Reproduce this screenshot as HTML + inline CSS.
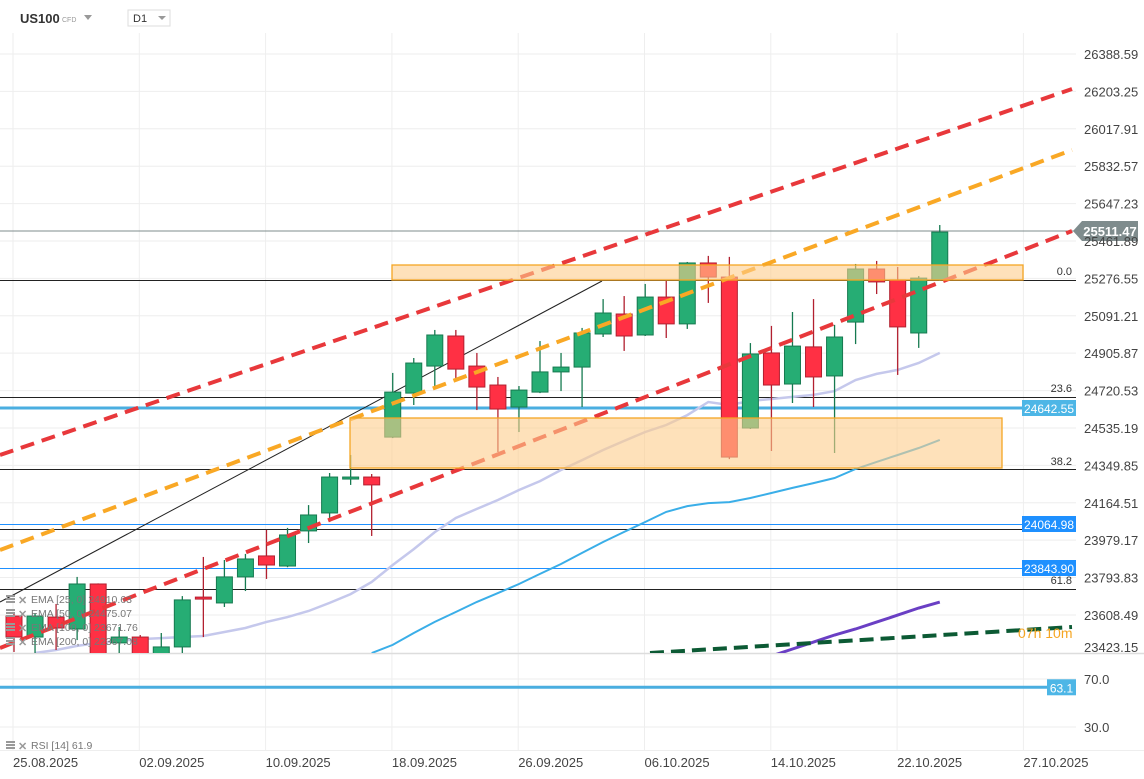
<!DOCTYPE html>
<html><head><meta charset="utf-8"><style>
body{margin:0;background:#fff;font-family:"Liberation Sans",sans-serif;}
svg{display:block}
</style></head><body>
<svg id="chart" width="1144" height="779" xmlns="http://www.w3.org/2000/svg" font-family="Liberation Sans, sans-serif">
<defs><clipPath id="mainclip"><rect x="0" y="30" width="1076" height="623"/></clipPath></defs>
<g id="grid"></g>
<g id="main" clip-path="url(#mainclip)"></g>
<g id="overlay"></g>
<g id="axes"></g>
<g>
<text x="20" y="23" font-size="13" font-weight="bold" fill="#333">US100</text>
<text x="62" y="22" font-size="7" fill="#999">CFD</text>
<path d="M84 15 L92 15 L88 20 Z" fill="#999"/>
<rect x="128" y="10" width="42" height="16" fill="#fff" stroke="#ddd"/>
<text x="133" y="22" font-size="11" fill="#333">D1</text>
<path d="M158 16 L166 16 L162 20 Z" fill="#999"/>
</g>
</svg>
<script>
const candleOpen=[23603,23499,23598,23539,23762,23470,23499,23385,23450,23697,23668,23797,23901,23851,24025,24114,24282,24292,24490,24708,24842,24991,24842,24748,24639,24713,24813,24837,25001,25100,24996,25184,25051,25353,25283,24535,24907,24753,24937,24793,25060,25323,25269,25006,25269];
const candleHigh=[23623,23618,23663,23797,23765,23549,23509,23519,23702,23896,23881,23911,24030,24040,24153,24312,24401,24307,24808,24882,25021,25021,24907,24788,24743,24966,24907,25031,25174,25189,25249,25264,25358,25388,25383,24956,25041,25110,25174,25046,25348,25363,25333,25288,25541];
const candleLow=[23425,23420,23435,23484,23360,23410,23360,23360,23420,23499,23648,23727,23787,23845,23965,24069,24253,24000,24485,24649,24743,24778,24624,24416,24515,24708,24718,24639,24986,24917,24991,24981,25026,25155,24381,24530,24421,24659,24639,24411,24951,25199,24798,24932,25264];
const candleClose=[23499,23603,23544,23762,23385,23499,23385,23450,23683,23688,23797,23886,23856,24005,24104,24292,24292,24253,24713,24857,24996,24827,24738,24629,24723,24813,24837,25006,25105,24991,25184,25051,25353,25283,24391,24902,24748,24941,24788,24986,25323,25259,25036,25278,25506];
const ema25=[23420,23435,23455,23470,23480,23489,23494,23499,23504,23524,23544,23574,23598,23628,23668,23712,23772,23856,23935,24019,24089,24134,24178,24228,24272,24327,24376,24426,24471,24515,24550,24599,24664,24649,24669,24679,24689,24699,24718,24773,24803,24823,24857,24907];
const ema25Start=1;
const ema50=[23420,23460,23519,23574,23623,23673,23717,23762,23812,23861,23916,23970,24020,24069,24119,24148,24163,24168,24188,24213,24238,24262,24287,24332,24367,24401,24436,24476];
const ema50Start=17;
const ema100=[23405,23440,23474,23509,23539,23573,23608,23643,23672];
const ema100Start=36;
const priceTicks=[26388.59,26203.25,26017.91,25832.57,25647.23,25461.89,25276.55,25091.21,24905.87,24720.53,24535.19,24349.85,24164.51,23979.17,23793.83,23608.49,23423.15];
const dateLabels=["25.08.2025","02.09.2025","10.09.2025","18.09.2025","26.09.2025","06.10.2025","14.10.2025","22.10.2025","27.10.2025"];
const rsiValue=63.1;
const rsiTicks=[70.0,30.0];
const lastPrice=25511.47;

const NS="http://www.w3.org/2000/svg";
function y(p){return 54+(26388.59-p)/4.956;}
function x(i){return 14+i*21.04;}
function ry(v){return 679+(70-v)*1.2;}
function mk(tag,attrs,parent){const e=document.createElementNS(NS,tag);for(const k in attrs)e.setAttribute(k,attrs[k]);parent.appendChild(e);return e;}
const grid=document.getElementById('grid'),main=document.getElementById('main'),ov=document.getElementById('overlay'),axes=document.getElementById('axes');

priceTicks.forEach((t,i)=>{if(i===priceTicks.length-1)return;
const g=mk('line',{x1:0,x2:1076,y1:y(t),y2:y(t),stroke:'#eee','stroke-width':1},grid);


const l=mk('text',{x:1084,y:y(t)+5,'font-size':13,fill:'#444'},axes);l.textContent=t.toFixed(2);

});
{const l=mk('text',{x:1084,y:652,'font-size':13,fill:'#444'},axes);l.textContent=priceTicks[priceTicks.length-1].toFixed(2);

}
dateLabels.forEach((d,i)=>{const gx=13+i*126.3;
const g=mk('line',{x1:gx,x2:gx,y1:33,y2:750,stroke:'#eee'},grid);


const t=mk('text',{x:gx,y:767,'font-size':13,fill:'#444'},axes);t.textContent=d;

});
rsiTicks.forEach(v=>{const g=mk('line',{x1:0,x2:1076,y1:ry(v),y2:ry(v),stroke:'#eee'},grid);


const t=mk('text',{x:1084,y:ry(v)+5,'font-size':13,fill:'#444'},axes);t.textContent=v.toFixed(1);

});
{const s=mk('line',{x1:0,x2:1144,y1:653.5,y2:653.5,stroke:'#ddd','stroke-width':1.5},grid);


const s2=mk('line',{x1:0,x2:1144,y1:750.5,y2:750.5,stroke:'#eee'},grid);

}

function hline(p,color,w,name,x2){const l=mk('line',{x1:0,x2:x2||1076,y1:p,y2:p,stroke:color,'stroke-width':w},main);

}
hline(y(lastPrice),'#7f8c8d',1,'last-price-line');
hline(280.5,'#222',1,'fib-level-0');
hline(397.5,'#222',1,'fib-level-23-6');
hline(408,'#4aaee0',3,'support-line-24642');
hline(469.5,'#222',1,'fib-level-38-2');
hline(524.5,'#1e90ff',1,'level-line-24064');
hline(529.5,'#222',1,'fib-level-50');
hline(568.5,'#1e90ff',1,'level-line-23843');
hline(589.5,'#222',1,'fib-level-61-8');

function emaPath(arr,start,color,w,name){let d='';arr.forEach((v,i)=>{d+=(i?'L':'M')+x(start+i).toFixed(1)+' '+y(v).toFixed(1);});
const p=mk('path',{d:d,fill:'none',stroke:color,'stroke-width':w},main);

}
emaPath(ema25,ema25Start,'#c5c8ec',2.5,'ema-25-line');
emaPath(ema50,ema50Start,'#3aaee8',2,'ema-50-line');
emaPath(ema100,ema100Start,'#6a3fc4',3,'ema-100-line');
{const p=mk('line',{x1:650,y1:653,x2:1072,y2:627,stroke:'#0c5a34','stroke-width':4,'stroke-dasharray':'14 7'},main);

}

{const l=mk('line',{x1:0,y1:602,x2:602,y2:281,stroke:'#222','stroke-width':1},main);

}

candleOpen.forEach((o,i)=>{const c=candleClose[i],h=candleHigh[i],lo=candleLow[i];const up=c>=o;
const fill=up?'#26ad74':'#ff3044',st=up?'#167a50':'#b22030';const cx=x(i);
const g=mk('g',{},main);


mk('line',{x1:cx,x2:cx,y1:y(h),y2:y(lo),stroke:st,'stroke-width':1.3},g);
const top=y(Math.max(o,c)),bh=Math.max(2,y(Math.min(o,c))-top);
mk('rect',{x:cx-8,y:top,width:16,height:bh,fill:fill,stroke:st,'stroke-width':1},g);});

function dline(x1,y1,x2,y2,color,name){const l=mk('line',{x1:x1,y1:y1,x2:x2,y2:y2,stroke:color,'stroke-width':4,'stroke-dasharray':'14 8'},main);

}
dline(0,455,1072,89,'#e8383b','channel-upper-line');
dline(0,550,1072,150,'#f9a825','channel-mid-line');
dline(0,648,1072,231,'#e8383b','channel-lower-line');

function zone(x1,y1,x2,y2,name){const r=mk('rect',{x:x1,y:y1,width:x2-x1,height:y2-y1,fill:'rgba(253,205,140,0.6)',stroke:'#f5a623','stroke-width':1.3},main);

}
zone(392,265,1023,280,'resistance-zone');
zone(350,418,1002,468,'support-zone');

[['0.0',275],['23.6',392],['38.2',465],['50.0',524],['61.8',584]].forEach(a=>{const t=mk('text',{x:1072,y:a[1],'font-size':11,fill:'#333','text-anchor':'end'},ov);t.textContent=a[0];

});

function lbox(yc,txt,bg,name,x1,w){const g=mk('g',{},ov);


mk('rect',{x:x1||1022,y:yc-8,width:w||54,height:16,fill:bg},g);
const t=mk('text',{x:(x1||1022)+(w||54)/2,y:yc+5,'font-size':12,fill:'#fff','text-anchor':'middle'},g);t.textContent=txt;}
lbox(408,'24642.55','#4db6e6','level-label-24642');
lbox(524,'24064.98','#1e90ff','level-label-24064');
lbox(568,'23843.90','#1e90ff','level-label-23843');
{const g=mk('g',{},ov);


const yc=y(lastPrice);
mk('path',{d:`M1073 ${yc} L1082 ${yc-10} L1138 ${yc-10} L1138 ${yc+10} L1082 ${yc+10} Z`,fill:'#7f8c8d'},g);
const t=mk('text',{x:1110,y:yc+5,'font-size':13,'font-weight':'bold',fill:'#fff','text-anchor':'middle'},g);t.textContent=lastPrice.toFixed(2);}
{const t=mk('text',{x:1018,y:638,'font-size':14,fill:'#f5a623'},ov);t.textContent='07h 10m';

}

{const l=mk('line',{x1:0,x2:1047,y1:ry(rsiValue),y2:ry(rsiValue),stroke:'#4aaee0','stroke-width':3},ov);


lbox(ry(rsiValue),rsiValue.toFixed(1),'#4db6e6','rsi-value-label',1047,29);}

[['EMA [25, 0] 24910.63',604],['EMA [50, 0] 24475.07',618],['EMA [100, 0] 23671.76',632],['EMA [200, 0] 22367.08',646],['RSI [14] 61.9',750]].forEach(a=>{const g=mk('g',{},ov);


mk('rect',{x:6,y:a[1]-9,width:9,height:2,fill:'#999'},g);mk('rect',{x:6,y:a[1]-6,width:9,height:2,fill:'#999'},g);mk('rect',{x:6,y:a[1]-3,width:9,height:2,fill:'#999'},g);
const xx=mk('text',{x:18,y:a[1],'font-size':11,fill:'#999','font-weight':'bold'},g);xx.textContent='✕';
const t=mk('text',{x:31,y:a[1]-1,'font-size':10.5,fill:'#777'},g);t.textContent=a[0];});
</script>
</body></html>
